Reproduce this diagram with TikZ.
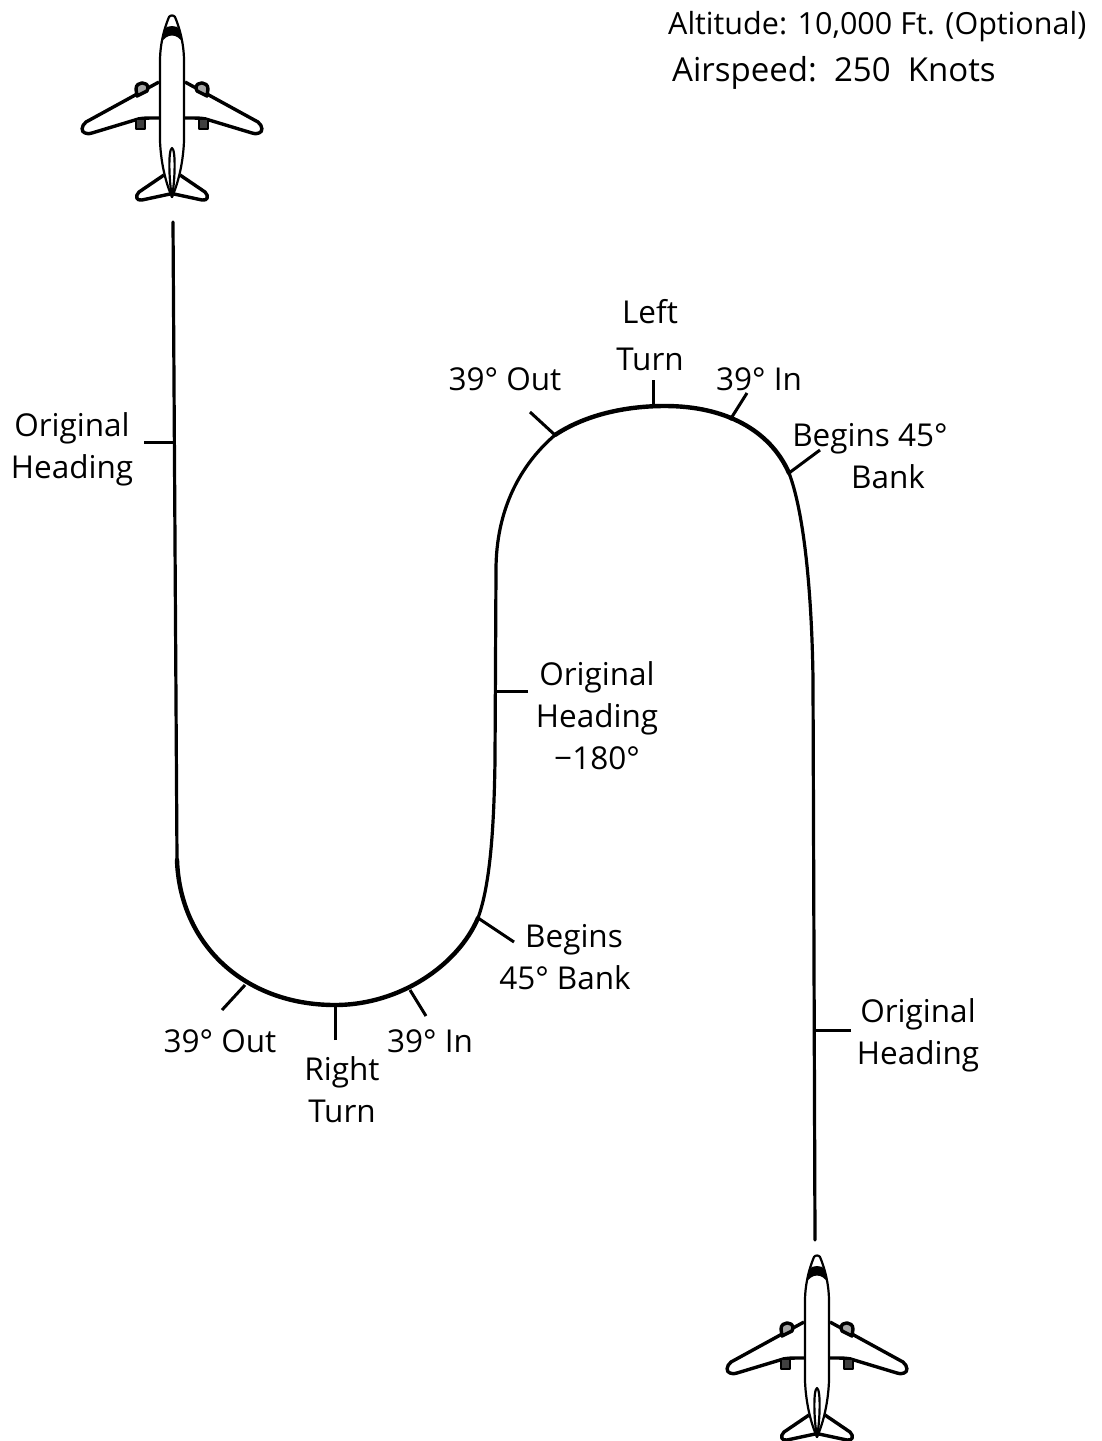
\documentclass[tikz,border=0pt]{standalone}
\usepackage{fontspec}
\setmainfont{Open Sans}
\usetikzlibrary{positioning, calc}

\tikzset{
    lbl/.style={font=\fontsize{31.5}{42}\selectfont, align=center, inner sep=0pt},
    toplbl/.style={font=\fontsize{30.5}{42}\selectfont, anchor=west, inner sep=0pt},
    track/.style={line width=3.2pt, line join=round, line cap=round},
    turn/.style={line width=4.4pt, line join=round, line cap=round},
    tick/.style={line width=3pt},
    planeline/.style={line width=2.2pt, line join=round},
    planeheavy/.style={line width=3.4pt, line join=round},
    pics/plane/.style={code={
        % fuselage
        \draw[planeline, fill=white] (-3,1) .. controls (-6,8) and (-12,25) .. (-12,45)
            -- (-12,125) .. controls (-11,150) and (-5,170) .. (0,181)
            .. controls (5,170) and (11,150) .. (12,125) -- (12,45)
            .. controls (12,25) and (6,8) .. (3,1) .. controls (2,-1) and (-2,-1) .. (-3,1) -- cycle;
        % cockpit band
        \fill (-8,13) .. controls (-4,9) and (4,9) .. (8,13) -- (11,27)
            .. controls (5,17) and (-5,17) .. (-11,27) -- cycle;
        % fin
        \draw[planeline] (0,132) .. controls (-4,134) and (-3,165) .. (0,181)
            .. controls (3,165) and (4,134) .. (0,132) -- cycle;
        % wings and tailplane, one side then the other
        \foreach \side in {-1,1} {
            \begin{scope}[xscale=\side]
                \draw[planeheavy] (13,66) -- (86,106) .. controls (91,110) and (91,116) .. (87,117)
                    .. controls (84,118) and (83,118) .. (80,117)
                    -- (37,104) .. controls (32,102) and (28,102) .. (13,102);
                \draw[planeheavy, fill=black!35] (24,72) .. controls (24,65) and (36,65) .. (36,73) -- (35,80) -- (25,75) -- cycle;
                \draw[planeline, fill=black!75] (27,103) rectangle (36,113);
                \draw[planeheavy] (8,159) -- (33,176) .. controls (37,180) and (36,185) .. (30,184)
                    -- (2,178);
            \end{scope}
        }
    }}
}

\begin{document}
\begin{tikzpicture}[x=1pt, y=-1pt]

    % --- PAGE SIZE ---
    \useasboundingbox (0,0) rectangle (1101,1441);

    % --- AIRCRAFT ---
    \pic (planeA) at (172,16) {plane};
    \pic (planeB) at (817,1256) {plane};

    % --- TRACK POINTS ---
    \coordinate (startA) at (173,222);
    \coordinate (rightIn) at (177,860);
    \coordinate (rightOut) at (478,918);
    \coordinate (leftIn) at (555,435);
    \coordinate (leftOut) at (789,473);
    \coordinate (endB) at (815,1240);

    % --- TRACK ---
    \draw[track] (startA) -- (rightIn);
    \draw[turn] (rightIn) .. controls (180,945) and (245,1005) .. (335,1005)
        .. controls (400,1005) and (458,965) .. (rightOut);
    \draw[track] (rightOut) .. controls (490,885) and (494,830) .. (495,760)
        -- (496,570) .. controls (496,510) and (520,465) .. (leftIn);
    \draw[turn] (leftIn) .. controls (585,415) and (625,406) .. (665,406)
        .. controls (725,406) and (770,430) .. (leftOut);
    \draw[track] (leftOut) .. controls (805,515) and (812,600) .. (813,680)
        -- (endB);

    % --- LABELS ---
    \node[toplbl] (title1) at (668,27) {Altitude: 10,000 Ft. (Optional)};
    \node[toplbl, font=\fontsize{33}{42}\selectfont] (title2) at (672,73) {Airspeed:\ \ 250\ \ Knots};
    \node[lbl] (headA) at (72,449) {Original\\Heading};
    \node[lbl] (outTop) at (505,379) {39° Out};
    \node[lbl] (leftTurn) at (650,335) {Left\\[5pt]Turn};
    \node[lbl] (inTop) at (759,379) {39° In};
    \node[lbl] (bankTop) at (870,456) {Begins 45°\\\hspace*{36pt}Bank};
    \node[lbl] (headMid) at (597,716) {Original\\Heading\\−180°};
    \node[lbl] (bankLow) at (565,957) {\hspace*{18pt}Begins\\45° Bank};
    \node[lbl] (inLow) at (430,1041) {39° In};
    \node[lbl] (rightTurn) at (342,1090) {Right\\Turn};
    \node[lbl] (outLow) at (220,1041) {39° Out};
    \node[lbl] (headB) at (918,1035) {Original\\Heading};

    % --- TICKS ---
    \draw[tick] (144,442) coordinate (t1) -- (175,442) coordinate (t1a);
    \draw[tick] (530,412) coordinate (t2) -- (leftIn);
    \draw[tick] (653,380) coordinate (t3) -- (653,406) coordinate (t3a);
    \draw[tick] (747,393) coordinate (t4) -- (730,420) coordinate (t4a);
    \draw[tick] (820,450) coordinate (t5) -- (leftOut);
    \draw[tick] (528,691) coordinate (t6) -- (495,691) coordinate (t6a);
    \draw[tick] (514,942) coordinate (t7) -- (rightOut);
    \draw[tick] (426,1016) coordinate (t8) -- (410,990) coordinate (t8a);
    \draw[tick] (335,1040) coordinate (t9) -- (335,1005) coordinate (t9a);
    \draw[tick] (245,985) coordinate (t10) -- (222,1010) coordinate (t10a);
    \draw[tick] (851,1030) coordinate (t11) -- (814,1030) coordinate (t11a);

\end{tikzpicture}
\end{document}
